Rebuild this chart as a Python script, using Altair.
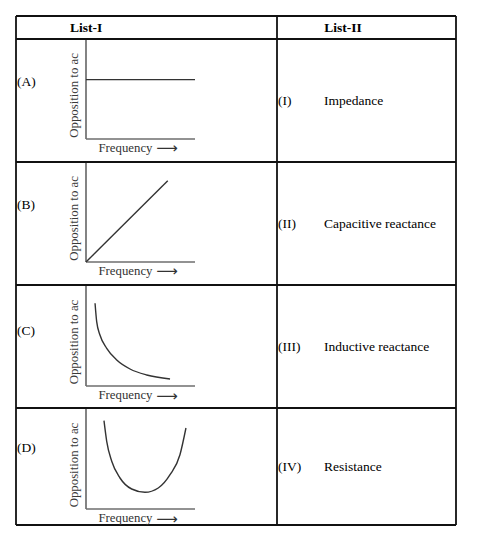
import altair as alt
import pandas as pd

# ---------------- data ----------------
headers = ["List-I", "List-II"]
row_labels = ["(A)", "(B)", "(C)", "(D)"]
roman = ["(I)", "(II)", "(III)", "(IV)"]
quantities = ["Impedance", "Capacitive reactance", "Inductive reactance", "Resistance"]
x_title = "Frequency"
arrow = "\u27f6"
y_title = "Opposition to ac"

# curves: frequency (0-10) vs opposition to ac (0-10)
freq_A = [0, 10]
opp_A = [6.0, 6.0]
freq_B = [0, 7.5]
opp_B = [0, 8.2]
freq_C = [0.83, 0.98, 1.28, 1.9, 2.82, 4.04, 5.57, 7.71]
opp_C = [8.27, 6.43, 5.1, 3.77, 2.6, 1.7, 1.1, 0.7]
freq_D = [1.65, 1.9, 2.36, 3.12, 4.19, 5.41, 6.63, 7.71, 8.62, 9.17]
opp_D = [8.83, 6.77, 4.77, 3.1, 2.0, 1.67, 2.1, 3.43, 5.43, 8.1]
curves = [(freq_A, opp_A), (freq_B, opp_B), (freq_C, opp_C), (freq_D, opp_D)]

# ---------------- layout ----------------
OFF = 8
W, H = 473, 526
COL_X = [16, 277, 456]
ROW_Y = [16, 39, 162, 285, 408, 525]
PANEL_X = (86, 195)
PANEL_Y = [(40, 139), (163, 262), (286, 386), (409, 509)]
LABEL_Y = [82, 205, 331, 448]
SERIF = "Liberation Serif"

px = alt.Scale(domain=[OFF, OFF + W], range=[0, W], nice=False, zero=False)
py = alt.Scale(domain=[OFF, OFF + H], range=[0, H], nice=False, zero=False)


def pos(scale_x, scale_y, x2=False):
    enc = dict(
        x=alt.X("x:Q", scale=scale_x, axis=None),
        y=alt.Y("y:Q", scale=scale_y, axis=None),
    )
    if x2:
        enc["x2"] = "x2:Q"
        enc["y2"] = "y2:Q"
    return enc


# table grid
grid = [dict(x=COL_X[0], x2=COL_X[-1], y=y, y2=y) for y in ROW_Y] + [
    dict(x=x, x2=x, y=ROW_Y[0], y2=ROW_Y[-1]) for x in COL_X
]
grid_layer = alt.Chart(pd.DataFrame(grid)).mark_rule(
    color="#111111", strokeWidth=1.8
).encode(**pos(px, py, True))

head_df = pd.DataFrame(dict(text=headers, x=[86, 343], y=[27.5, 27.5]))
head_layer = alt.Chart(head_df).mark_text(
    font=SERIF, fontSize=13.5, fontWeight="bold", color="#000", align="center", baseline="middle"
).encode(text="text:N", **pos(px, py))

row_centers = [(ROW_Y[i + 1] + ROW_Y[i + 2]) / 2 for i in range(4)]
lab_df = pd.DataFrame(dict(text=row_labels, x=[17] * 4, y=LABEL_Y))
lab_layer = alt.Chart(lab_df).mark_text(
    font=SERIF, fontSize=13.5, color="#000", align="left", baseline="middle"
).encode(text="text:N", **pos(px, py))

rom_df = pd.DataFrame(dict(text=roman, x=[278] * 4, y=row_centers))
rom_layer = alt.Chart(rom_df).mark_text(
    font=SERIF, fontSize=13.5, color="#000", align="left", baseline="middle"
).encode(text="text:N", **pos(px, py))

name_df = pd.DataFrame(dict(text=quantities, x=[324] * 4, y=row_centers))
name_layer = alt.Chart(name_df).mark_text(
    font=SERIF, fontSize=13.5, color="#000", align="left", baseline="middle"
).encode(text="text:N", **pos(px, py))

table = alt.layer(grid_layer, head_layer, lab_layer, rom_layer, name_layer)


def panel(i):
    top, bot = PANEL_Y[i]
    sx = alt.Scale(domain=[0, 10], range=[PANEL_X[0] - OFF, PANEL_X[1] - OFF], nice=False, zero=False)
    sy = alt.Scale(domain=[0, 10], range=[bot - OFF, top - OFF], nice=False, zero=False)
    f, o = curves[i]
    axes = alt.Chart(pd.DataFrame([
        dict(x=0, y=0, x2=0, y2=10),
        dict(x=0, y=0, x2=10, y2=0),
    ])).mark_rule(color="#6e6e6e", strokeWidth=1.7).encode(**pos(sx, sy, True))
    line = alt.Chart(pd.DataFrame(dict(x=f, y=o, k=range(len(f))))).mark_line(
        interpolate="monotone", color="#333333", strokeWidth=1.4
    ).encode(order="k:Q", **pos(sx, sy))
    xt = alt.Chart(pd.DataFrame(dict(text=[x_title], x=[3.62], y=[-0.88]))).mark_text(
        font=SERIF, fontSize=12.8, color="#333", align="center", baseline="middle"
    ).encode(text="text:N", **pos(sx, sy))
    ar = alt.Chart(pd.DataFrame(dict(text=[arrow], x=[7.43], y=[-0.95]))).mark_text(
        font="DejaVu Sans", fontSize=15, color="#333", align="center", baseline="middle"
    ).encode(text="text:N", **pos(sx, sy))
    yt = alt.Chart(pd.DataFrame(dict(text=[y_title], x=[-1.1], y=[4.4]))).mark_text(
        font=SERIF, fontSize=12.8, color="#3a3a3a", align="center", baseline="middle", angle=270
    ).encode(text="text:N", **pos(sx, sy))
    return alt.layer(axes, line, xt, ar, yt)


chart = alt.layer(table, *[panel(i) for i in range(4)]).resolve_scale(
    x="independent", y="independent"
).properties(
    width=W, height=H, autosize="none", padding=0, background="white"
).configure_view(stroke=None)

chart.save("out.html", embed_options={"renderer": "svg", "actions": False})
